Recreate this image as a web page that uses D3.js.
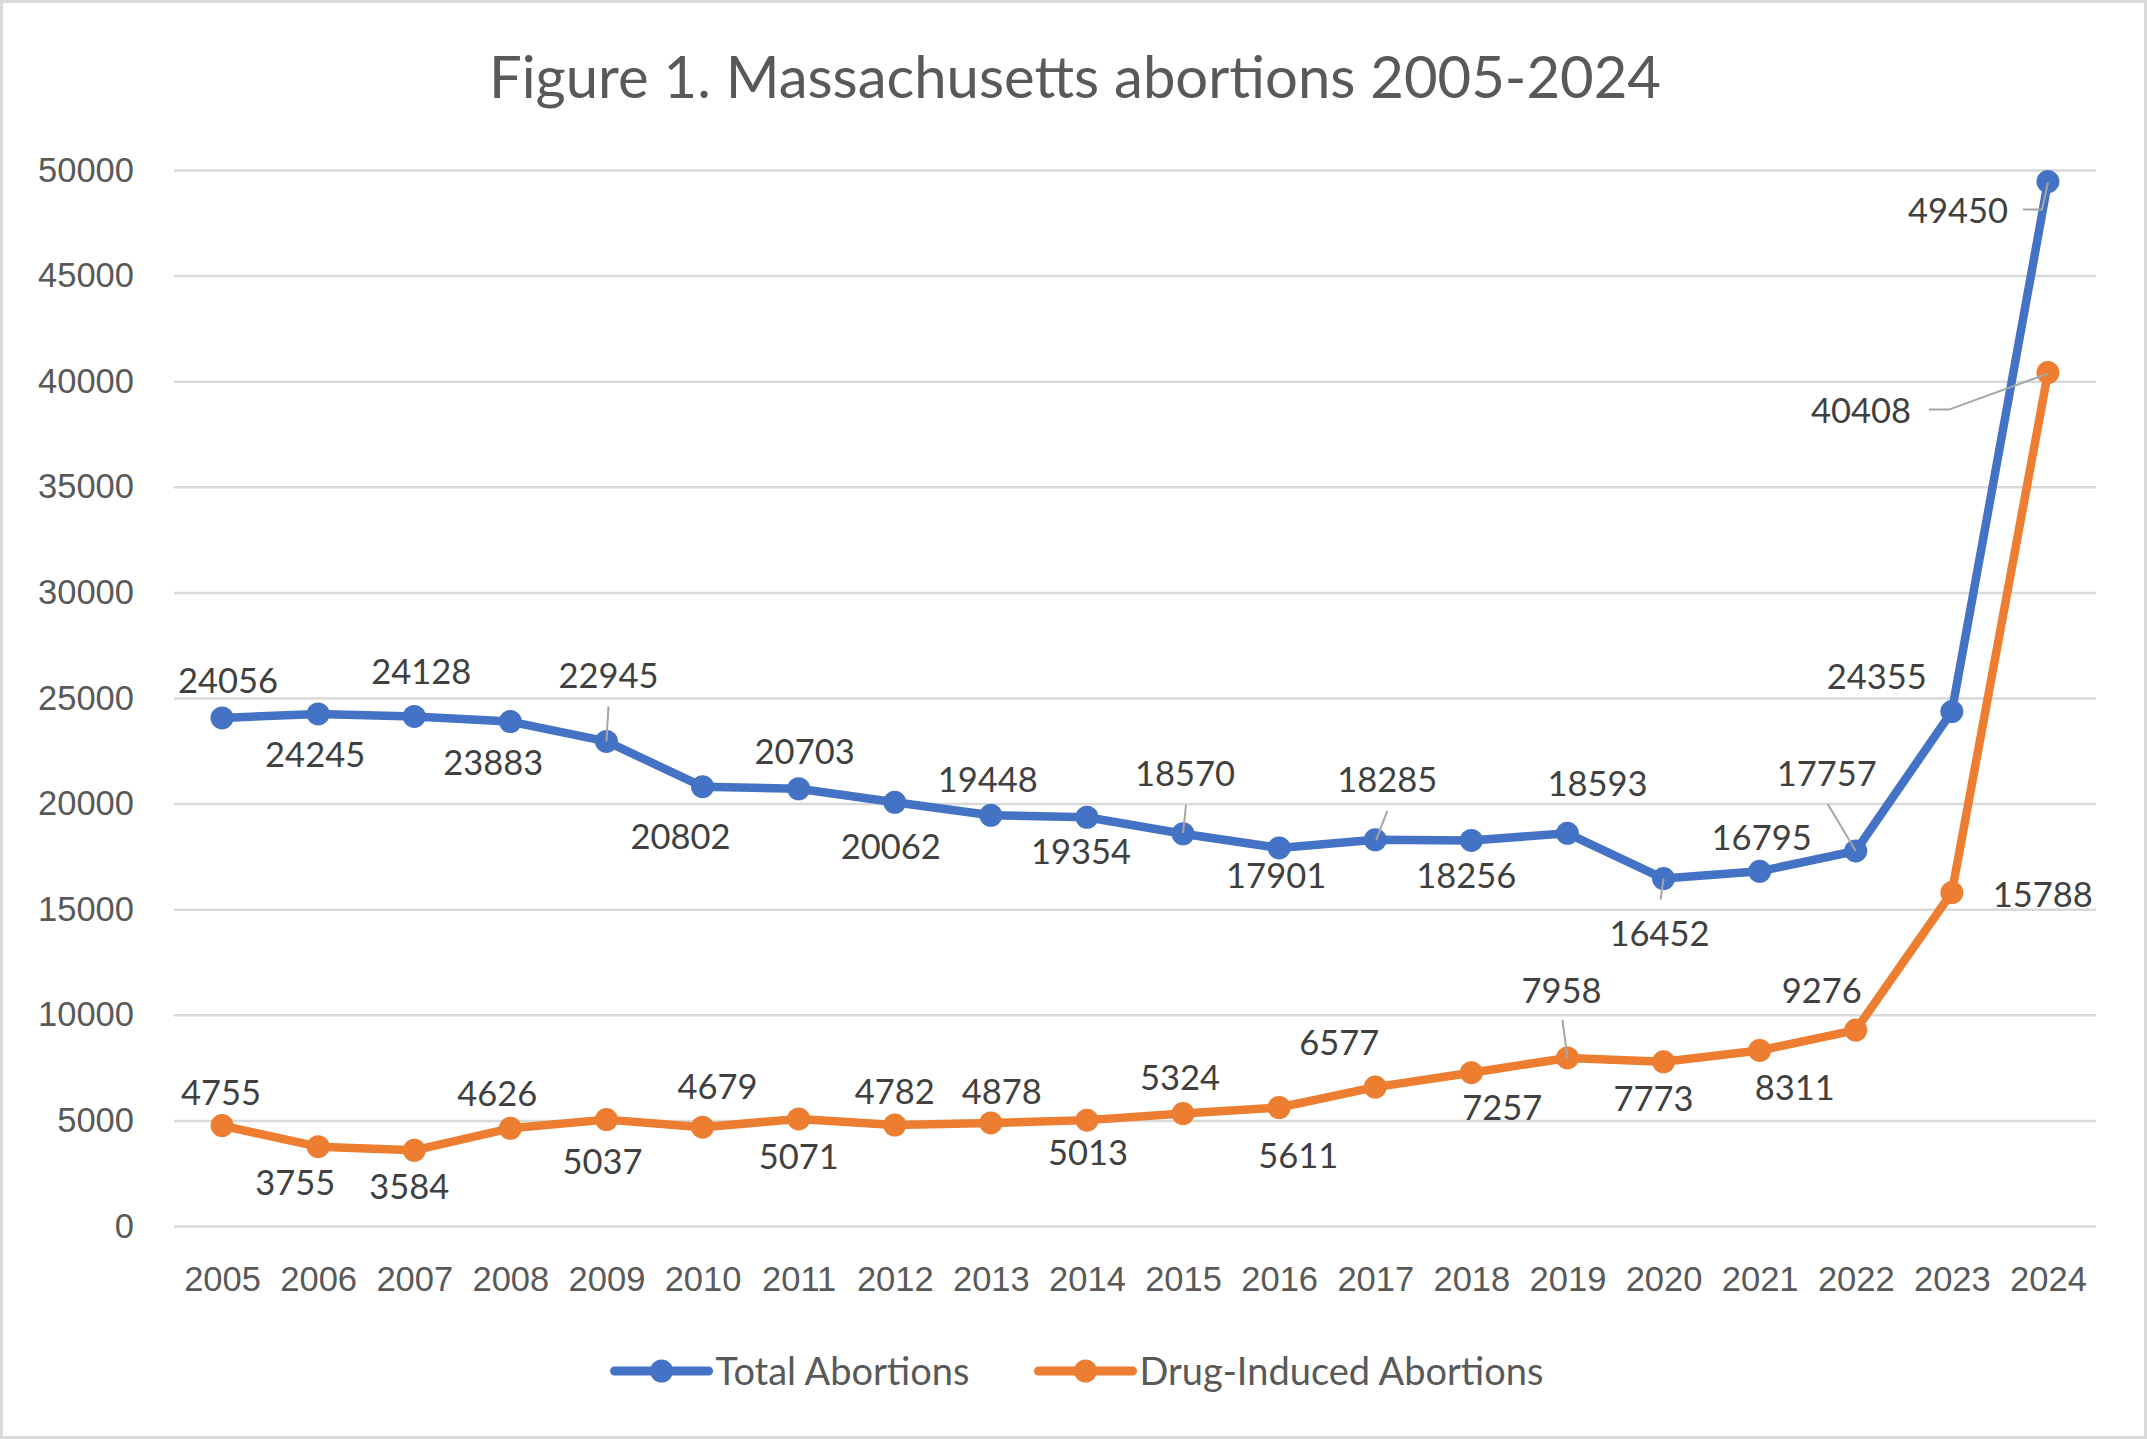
<!DOCTYPE html>
<html>
<head>
<meta charset="utf-8">
<script src="https://cdn.jsdelivr.net/npm/d3@7"></script>
<style>
  html, body { margin: 0; padding: 0; background: #fff; }
  svg { display: block; font-family: Lato, "Open Sans", sans-serif; }
  .axis .domain { display: none; }
  .axis text { fill: #595959; font-size: 34.5px; }
  .axis-y line { stroke: #d9d9d9; stroke-width: 2.5; }
  .data-label { fill: #404040; font-size: 34.5px; text-anchor: middle; }
  .leader { fill: none; stroke: #a6a6a6; stroke-width: 2; }
</style>
</head>
<body>
<svg id="chart"></svg>
<script>
const years = ['2005', '2006', '2007', '2008', '2009', '2010', '2011', '2012', '2013', '2014',
  '2015', '2016', '2017', '2018', '2019', '2020', '2021', '2022', '2023', '2024'];
const totalAbortions = [24056, 24245, 24128, 23883, 22945, 20802, 20703, 20062, 19448, 19354,
  18570, 17901, 18285, 18256, 18593, 16452, 16795, 17757, 24355, 49450];
const drugInduced = [4755, 3755, 3584, 4626, 5037, 4679, 5071, 4782, 4878, 5013,
  5324, 5611, 6577, 7257, 7958, 7773, 8311, 9276, 15788, 40408];
const yTicks = [0, 5000, 10000, 15000, 20000, 25000, 30000, 35000, 40000, 45000, 50000];
const seriesNames = ['Total Abortions', 'Drug-Induced Abortions'];
const titleText = 'Figure 1. Massachusetts abortions 2005-2024';

// where excel put each data label, relative to its point (px)
const totalLabelOffsets = [[6, -37], [-3, 41], [7, -45], [-17, 41], [2, -66], [-22, 50], [6, -37],
  [-4, 44], [-3, -36], [-6, 34], [2, -60], [-3, 28], [12, -60], [-5, 35], [30, -50], [-4, 55],
  [2, -34], [-29, -77], [-75, -35], [-90, 29]];
const drugLabelOffsets = [[-1, -33], [-23, 36], [-5, 36], [-13, -35], [-4, 42], [15, -41], [0, 38],
  [0, -33], [11, -31], [1, 32], [-3, -36], [19, 48], [-36, -45], [31, 35], [-6, -67], [-10, 37],
  [35, 37], [-34, -40], [91, 2], [-187, 38]];
// leader lines: series index, point index, path relative to point
const leaders = [
  { s: 0, i: 4, pts: [[2, -35], [0, 0]] },
  { s: 0, i: 10, pts: [[3, -29], [0, -1]] },
  { s: 0, i: 12, pts: [[12, -29], [1, 0]] },
  { s: 0, i: 15, pts: [[0, 0], [-3, 21]] },
  { s: 0, i: 17, pts: [[-28, -47], [0, 0]] },
  { s: 0, i: 19, pts: [[-25, 28], [-6, 28], [0, 1]] },
  { s: 1, i: 14, pts: [[-5, -38], [0, 0]] },
  { s: 1, i: 19, pts: [[-119, 37], [-99, 37], [0, 1]] }
];

const W = 2147;
const H = 1439;
const margin = { top: 170, right: 51, bottom: 213, left: 174 };
const colors = ['#4472C4', '#ED7D31'];

const svg = d3.select('#chart').attr('width', W).attr('height', H);
const width = W - margin.left - margin.right;
const height = H - margin.top - margin.bottom;

svg.append('rect')
  .attr('x', 1.5).attr('y', 1.5)
  .attr('width', W - 3).attr('height', H - 3)
  .attr('fill', '#fff')
  .attr('stroke', '#d9d9d9')
  .attr('stroke-width', 3);

svg.append('text')
  .attr('x', 1075)
  .attr('y', 98)
  .attr('text-anchor', 'middle')
  .attr('fill', '#595959')
  .style('font-size', '58px')
  .text(titleText);

const x = d3.scalePoint().domain(years).range([0, width]).padding(0.5);
const y = d3.scaleLinear().domain([0, 50000]).range([height, 0]);

const g = svg.append('g').attr('transform', `translate(${margin.left},${margin.top})`);

const axisY = d3.axisLeft(y)
  .tickValues(yTicks)
  .tickFormat(d => String(d))
  .tickSizeInner(-width)
  .tickSizeOuter(0)
  .tickPadding(40);
g.append('g').attr('class', 'axis axis-y').call(axisY);

const axisX = d3.axisBottom(x).tickSize(0).tickPadding(41);
g.append('g')
  .attr('class', 'axis axis-x')
  .attr('transform', `translate(0,${height})`)
  .call(axisX);

const series = [totalAbortions, drugInduced];
const offsets = [totalLabelOffsets, drugLabelOffsets];

const line = d3.line()
  .x((d, i) => x(years[i]))
  .y(d => y(d));

series.forEach((values, s) => {
  const sg = g.append('g').attr('class', 'series series-' + s);
  sg.append('path')
    .datum(values)
    .attr('fill', 'none')
    .attr('stroke', colors[s])
    .attr('stroke-width', 8.5)
    .attr('stroke-linejoin', 'round')
    .attr('stroke-linecap', 'round')
    .attr('d', line);
  sg.selectAll('circle')
    .data(values)
    .join('circle')
    .attr('cx', (d, i) => x(years[i]))
    .attr('cy', d => y(d))
    .attr('r', 11.5)
    .attr('fill', colors[s]);
});

const leaderLine = d3.line();
g.selectAll('.leader')
  .data(leaders)
  .join('path')
  .attr('class', 'leader')
  .attr('d', d => {
    const px = x(years[d.i]);
    const py = y(series[d.s][d.i]);
    return leaderLine(d.pts.map(p => [px + p[0], py + p[1]]));
  });

series.forEach((values, s) => {
  g.append('g')
    .selectAll('text')
    .data(values)
    .join('text')
    .attr('class', 'data-label')
    .attr('x', (d, i) => x(years[i]) + offsets[s][i][0])
    .attr('y', (d, i) => y(d) + offsets[s][i][1])
    .attr('dy', '0.36em')
    .text(d => d);
});

// legend
const legend = svg.append('g').attr('class', 'legend');
const legendY = 1371;
const items = legend.selectAll('g')
  .data(seriesNames)
  .join('g');
items.append('line')
  .attr('x1', 0).attr('x2', 94)
  .attr('y1', 0).attr('y2', 0)
  .attr('stroke', (d, i) => colors[i])
  .attr('stroke-width', 9)
  .attr('stroke-linecap', 'round');
items.append('circle')
  .attr('cx', 47).attr('cy', 0).attr('r', 11.5)
  .attr('fill', (d, i) => colors[i]);
items.append('text')
  .attr('x', 101)
  .attr('dy', '0.36em')
  .attr('fill', '#595959')
  .style('font-size', '38px')
  .text(d => d);

const itemWidths = [];
items.each(function() {
  itemWidths.push(101 + d3.select(this).select('text').node().getComputedTextLength());
});
const gap = 69;
const totalW = d3.sum(itemWidths) + gap * (itemWidths.length - 1);
let cursor = 1079 - totalW / 2;
items.attr('transform', (d, i) => {
  const t = `translate(${cursor},${legendY})`;
  cursor += itemWidths[i] + gap;
  return t;
});
</script>
</body>
</html>
